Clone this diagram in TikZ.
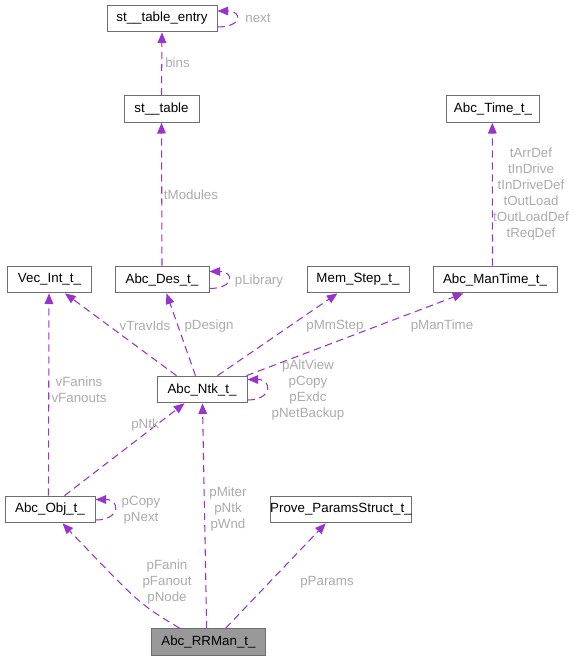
\documentclass[tikz,border=0pt]{standalone}
\usepackage{fontspec}
\setmainfont{Liberation Sans}
\usetikzlibrary{arrows.meta}
\definecolor{edgepurple}{HTML}{9A32CD}
\definecolor{lblgray}{HTML}{ABABAB}
\definecolor{boxgray}{HTML}{6E6E6E}
\definecolor{curgray}{HTML}{999999}

\begin{document}
\begin{tikzpicture}[
            x=0.75pt, y=-0.75pt,
            cls/.style={draw=boxgray, line width=0.75pt, fill=white, minimum height=20pt,
                        inner sep=0pt, font=\fontsize{10}{12}\selectfont},
            curcls/.style={cls, fill=curgray},
            dep/.style={draw=edgepurple, line width=0.8pt, dash pattern=on 5.5pt off 3.5pt,
                        -{Triangle[length=8pt,width=6.5pt]}},
            lbl/.style={text=lblgray, font=\fontsize{10}{12}\selectfont, align=center, inner sep=0pt}
                           ]
            \useasboundingbox (0,0) rectangle (575,661);

            % 1. Class boxes
            \node[cls, minimum width=82.5pt] (entry) at (162,18.5) {st\_\_table\_entry};
            \node[cls, minimum width=56.25pt] (sttable) at (161.5,109) {st\_\_table};
            \node[cls, minimum width=70pt] (time) at (493,109) {Abc\_Time\_t\_};
            \node[cls, minimum width=63pt] (vec) at (49.5,279.5) {Vec\_Int\_t\_};
            \node[cls, minimum width=70.5pt] (des) at (162,279.5) {Abc\_Des\_t\_};
            \node[cls, minimum width=76.5pt] (mem) at (358,279.5) {Mem\_Step\_t\_};
            \node[cls, minimum width=93pt] (mantime) at (495,279.5) {Abc\_ManTime\_t\_};
            \node[cls, minimum width=67.5pt] (ntk) at (202,389.5) {Abc\_Ntk\_t\_};
            \node[cls, minimum width=67.5pt] (obj) at (50,509.5) {Abc\_Obj\_t\_};
            \node[cls, minimum width=104pt] (prove) at (341,509.5) {Prove\_ParamsStruct\_t\_};
            \node[curcls, minimum width=86pt] (rrman) at (208.5,642) {Abc\_RRMan\_t\_};

            % 2. Straight dependencies
            \draw[dep] (sttable.north) -- (entry.south);
            \draw[dep] (des.north) -- (sttable.south);
            \draw[dep] ([shift={(60,0)}]mantime.north west) -- ([shift={(46.5,0)}]time.south west);
            \draw[dep] ([shift={(20,0)}]ntk.north west) -- ([shift={(58,0)}]vec.south west);
            \draw[dep] ([shift={(39,0)}]ntk.north west) -- ([shift={(52,0)}]des.south west);
            \draw[dep] ([shift={(61,0)}]ntk.north west) -- ([shift={(31,0)}]mem.south west);
            \draw[dep] ([shift={(-1,0)}]ntk.north east) -- ([shift={(31,0)}]mantime.south west);
            \draw[dep] ([shift={(44,0)}]obj.north west) -- ([shift={(42,0)}]vec.south west);
            \draw[dep] ([shift={(60,0)}]obj.north west) -- ([shift={(28,0)}]ntk.south west);
            \draw[dep] ([shift={(56,0)}]rrman.north west) -- ([shift={(46,0)}]ntk.south west);
            \draw[dep] ([shift={(75,0)}]rrman.north west) -- ([shift={(56,0)}]prove.south west);
            \draw[dep] ([shift={(29,0)}]rrman.north west) .. controls +(-40,-24) .. ([shift={(58,0)}]obj.south west);

            % 3. Self references
            \draw[dep] ([shift={(0,8.5)}]entry.east) .. controls +(25,0) and +(25,0) .. ([shift={(0,-7.5)}]entry.east);
            \draw[dep] ([shift={(0,9)}]des.east) .. controls +(25,0) and +(25,0) .. ([shift={(0,-8)}]des.east);
            \draw[dep] ([shift={(0,10.5)}]ntk.east) .. controls +(25,0) and +(25,0) .. ([shift={(0,-10)}]ntk.east);
            \draw[dep] ([shift={(0,10.5)}]obj.east) .. controls +(25,0) and +(25,0) .. ([shift={(0,-10)}]obj.east);

            % 4. Member labels
            \node[lbl] (l_next) at (258,18.5) {next};
            \node[lbl] (l_bins) at (177.5,63) {bins};
            \node[lbl] (l_tmod) at (191,195) {tModules};
            \node[lbl] (l_time) at (531,194.5) {tArrDef\\tInDrive\\tInDriveDef\\tOutLoad\\tOutLoadDef\\tReqDef};
            \node[lbl] (l_lib) at (259,281.5) {pLibrary};
            \node[lbl] (l_trav) at (145,326) {vTravIds};
            \node[lbl] (l_des) at (209,326) {pDesign};
            \node[lbl] (l_mm) at (335,326) {pMmStep};
            \node[lbl] (l_mant) at (442,326) {pManTime};
            \node[lbl] (l_ntkself) at (308,390) {pAltView\\pCopy\\pExdc\\pNetBackup};
            \node[lbl] (l_fan) at (79,389.5) {vFanins\\vFanouts};
            \node[lbl] (l_ntk) at (145,425) {pNtk};
            \node[lbl] (l_objself) at (141,510) {pCopy\\pNext};
            \node[lbl] (l_miter) at (228,509.5) {pMiter\\pNtk\\pWnd};
            \node[lbl] (l_node) at (167,582) {pFanin\\pFanout\\pNode};
            \node[lbl] (l_par) at (327,582) {pParams};

        \end{tikzpicture}
\end{document}
